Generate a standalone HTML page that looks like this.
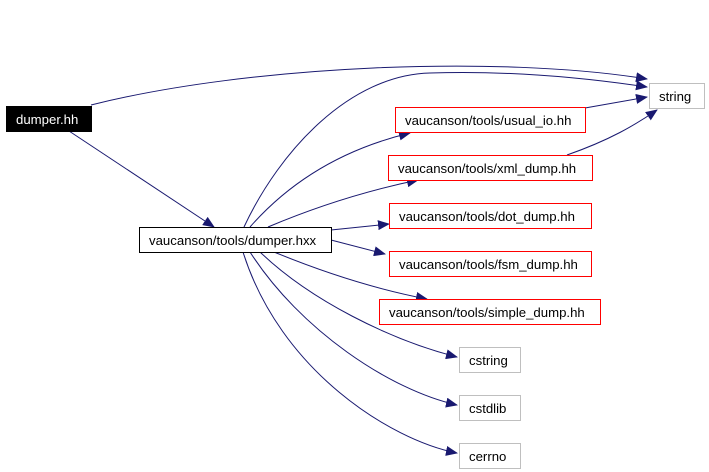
<!DOCTYPE html>
<html><head><style>body{margin:0;background:#fff}svg{display:block}</style></head><body>
<svg width="709" height="472" xmlns="http://www.w3.org/2000/svg" font-family="Liberation Sans, sans-serif" font-size="13.2">
<defs><marker id="a" markerWidth="12" markerHeight="10" refX="11" refY="5" orient="auto" markerUnits="userSpaceOnUse"><path d="M0,0L12,5L0,10z" fill="#191970"/></marker></defs>
<g fill="none" stroke="#191970" stroke-width="1" marker-end="url(#a)">
<path d="M91,105C250,65 500,55 647,79"/>
<path d="M69,131L214,227"/>
<path d="M244,227C280,150 350,75 430,73C520,70 600,80 647,87"/>
<path d="M585,108L647,97"/>
<path d="M567,155C610,140 635,125 657,110"/>
<path d="M250,227C300,170 360,145 410,133"/>
<path d="M268,227C320,205 370,190 418,180"/>
<path d="M331,230L389,224"/>
<path d="M331,240L385,254"/>
<path d="M274,252C330,275 380,290 427,299"/>
<path d="M260,252C310,300 390,340 457,357"/>
<path d="M250,252C300,330 390,390 457,405"/>
<path d="M243,252C280,370 390,440 457,453"/>
</g>
<rect x="6.5" y="106.5" width="85" height="25" fill="#000" stroke="#000"/>
<text x="16" y="124" fill="#fff">dumper.hh</text>
<rect x="139.5" y="227.5" width="192" height="25" fill="#fff" stroke="#000"/>
<text x="149" y="245">vaucanson/tools/dumper.hxx</text>
<rect x="649.5" y="83.5" width="55" height="25" fill="#fff" stroke="#bfbfbf"/>
<text x="659" y="101">string</text>
<g fill="#fff" stroke="#f00">
<rect x="395.5" y="107.5" width="190" height="25"/>
<rect x="388.5" y="155.5" width="204" height="25"/>
<rect x="389.5" y="203.5" width="202" height="25"/>
<rect x="389.5" y="251.5" width="202" height="25"/>
<rect x="379.5" y="299.5" width="221" height="25"/>
</g>
<text x="405" y="125">vaucanson/tools/usual_io.hh</text>
<text x="398" y="173">vaucanson/tools/xml_dump.hh</text>
<text x="399" y="221">vaucanson/tools/dot_dump.hh</text>
<text x="399" y="269">vaucanson/tools/fsm_dump.hh</text>
<text x="389" y="317">vaucanson/tools/simple_dump.hh</text>
<g fill="#fff" stroke="#bfbfbf">
<rect x="459.5" y="347.5" width="61" height="25"/>
<rect x="459.5" y="395.5" width="61" height="25"/>
<rect x="459.5" y="443.5" width="61" height="25"/>
</g>
<text x="469" y="365">cstring</text>
<text x="469" y="413">cstdlib</text>
<text x="469" y="461">cerrno</text>
</svg>
</body></html>
